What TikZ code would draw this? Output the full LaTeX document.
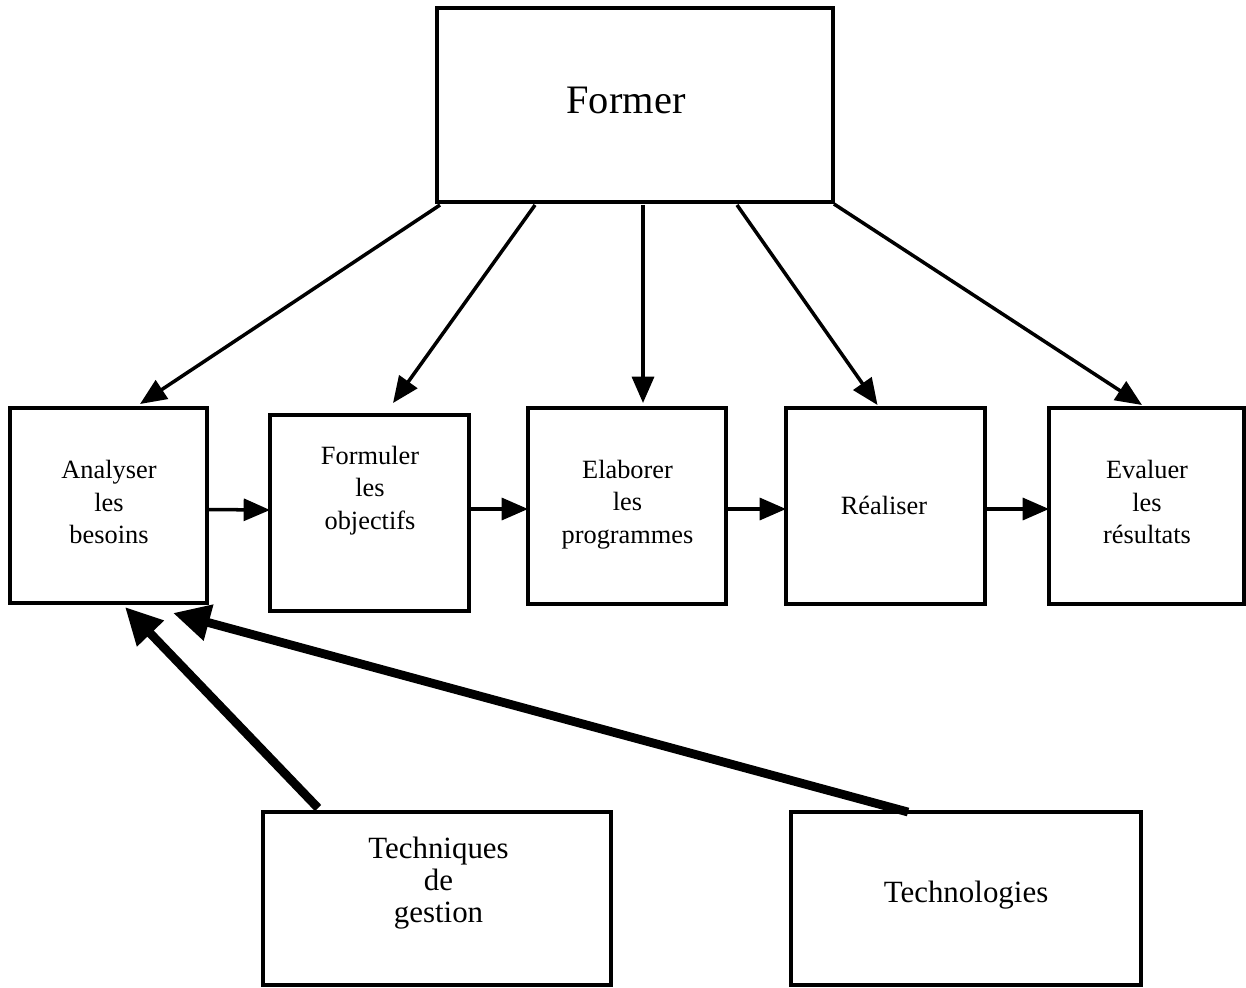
\documentclass[tikz,border=0pt]{standalone}
\usepackage{fontspec}
\setmainfont{Liberation Serif}
\usetikzlibrary{arrows.meta,calc}
\begin{document}
\begin{tikzpicture}[x=0.02cm,y=-0.02cm,
  box/.style={draw,line width=1.8pt,inner sep=0,outer sep=0},
  lbl/.style={align=center,inner sep=0,font=\fontsize{15}{18.4}\selectfont},
  smallarrow/.style={line width=2pt,-{Triangle[length=15pt,width=12.5pt]}},
  bigarrow/.style={line width=5pt,-{Triangle[length=21pt,width=20pt]}}]
\useasboundingbox (0,0) rectangle (1246,987);
% boxes
\node[box,minimum width=7.92cm,minimum height=3.88cm] (former) at (635,105) {};
\node[box,minimum width=3.94cm,minimum height=3.90cm] (ana) at (108.5,505.5) {};
\node[box,minimum width=3.98cm,minimum height=3.92cm] (form) at (369.5,513) {};
\node[box,minimum width=3.96cm,minimum height=3.92cm] (elab) at (627,506) {};
\node[box,minimum width=3.98cm,minimum height=3.92cm] (real) at (885.5,506) {};
\node[box,minimum width=3.90cm,minimum height=3.92cm] (eval) at (1146.5,506) {};
\node[box,minimum width=6.96cm,minimum height=3.46cm] (tech) at (437,898.5) {};
\node[box,minimum width=7.00cm,minimum height=3.46cm] (techno) at (966,898.5) {};
% texts
\node[lbl,font=\fontsize{23}{27}\selectfont,anchor=base] (tformer) at (626,113) {Former};
\node[lbl] (tana) at (109,502) {Analyser\\les\\besoins};
\node[lbl] (tform) at (370,490.5) {Formuler\\les\\objectifs};
\node[lbl] (telab) at (627.5,504.5) {Elaborer\\les\\programmes};
\node[lbl,anchor=base] (treal) at (884,514) {Réaliser};
\node[lbl] (teval) at (1147,502) {Evaluer\\les\\résultats};
\node[lbl,font=\fontsize{17.6}{18.1}\selectfont] (ttech) at (438.5,883) {Techniques\\de\\gestion};
\node[lbl,font=\fontsize{17.6}{18.1}\selectfont,anchor=base] (ttechno) at (966,902) {Technologies};
% arrows from Former
\draw[smallarrow] ($(former.south west)+(3,3)$) -- ($(ana.north)+(31.5,-4)$);
\draw[smallarrow] ($(former.south west)+(98,3)$) -- ($(form.north)+(23.5,-12)$);
\draw[smallarrow] ($(former.south)+(8,3)$) -- ($(elab.north)+(16,-5)$);
\draw[smallarrow] ($(former.south)+(102,3)$) -- ($(real.north)+(-8,-3)$);
\draw[smallarrow] ($(former.south east)+(1,2)$) -- ($(eval.north)+(-4.5,-3)$);
% chain
\draw[smallarrow] ($(ana.east)+(0,4)$) -- ($(form.west)+(0,-3)$);
\draw[smallarrow] ($(form.east)+(0,-4)$) -- ($(elab.west)+(0,3)$);
\draw[smallarrow] ($(elab.east)+(0,3)$) -- ($(real.west)+(0,3)$);
\draw[smallarrow] ($(real.east)+(0,3)$) -- ($(eval.west)+(0,3)$);
% thick arrows
\draw[bigarrow] ($(tech.north west)+(55,-4)$) -- ($(ana.south)+(16.5,4)$);
\draw[bigarrow] ($(techno.north west)+(117,0)$) -- ($(ana.south east)+(-34,10)$);
\end{tikzpicture}
\end{document}
